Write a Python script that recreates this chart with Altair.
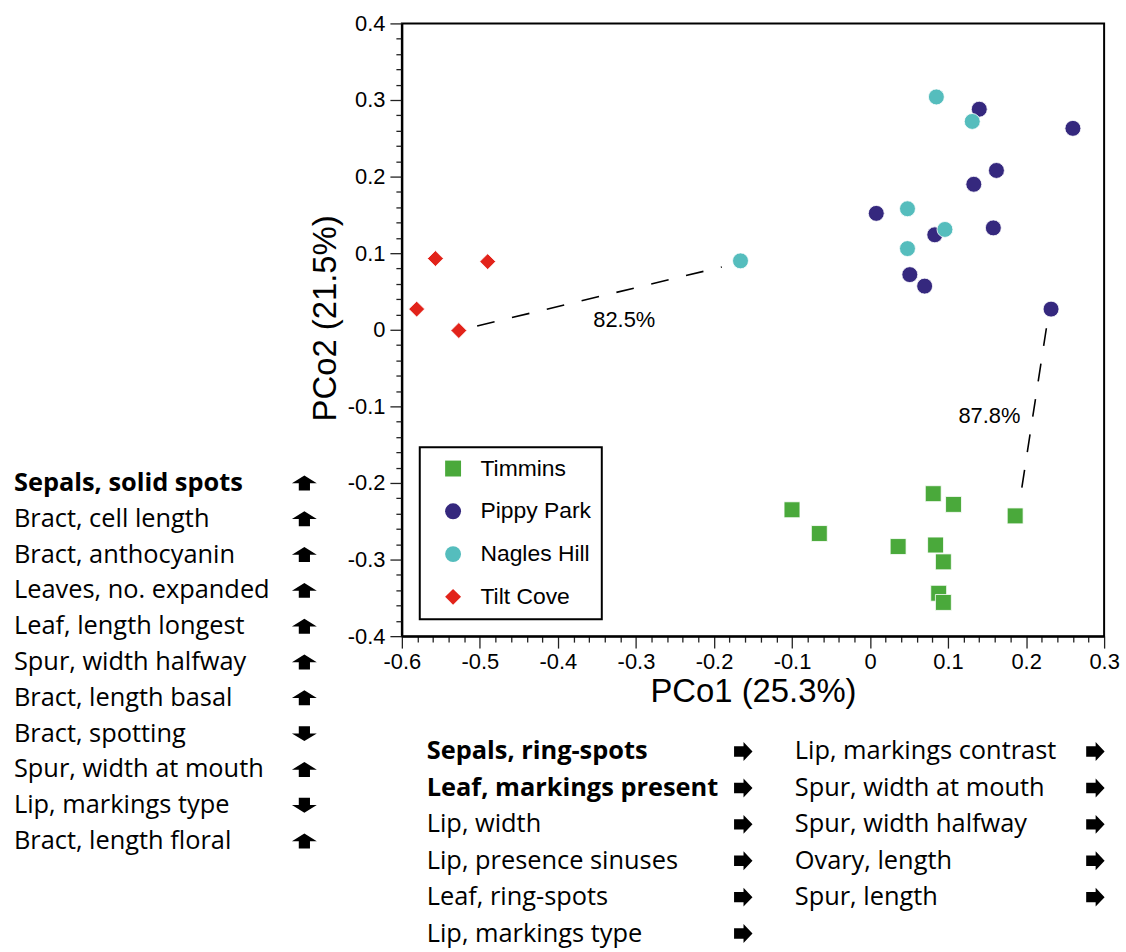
import altair as alt
import pandas as pd

# ---------------- data ----------------
sites = ["Timmins", "Pippy Park", "Nagles Hill", "Tilt Cove"]
site_colors = ["#4aa93b", "#35287e", "#55bdbd", "#e2231a"]
site_shapes = ["square", "circle", "circle", "diamond"]

timmins_x = [-0.100, -0.065, 0.036, 0.081, 0.107, 0.186, 0.084, 0.094, 0.088, 0.094]
timmins_y = [-0.235, -0.266, -0.283, -0.214, -0.228, -0.243, -0.281, -0.303, -0.344, -0.356]
pippy_x = [0.140, 0.260, 0.162, 0.133, 0.008, 0.083, 0.158, 0.051, 0.070, 0.232]
pippy_y = [0.288, 0.263, 0.208, 0.190, 0.152, 0.124, 0.133, 0.072, 0.057, 0.027]
nagles_x = [-0.166, 0.085, 0.131, 0.048, 0.096, 0.048]
nagles_y = [0.090, 0.304, 0.272, 0.158, 0.131, 0.106]
tilt_x = [-0.581, -0.557, -0.490, -0.527]
tilt_y = [0.027, 0.093, 0.089, -0.001]

link_x = [-0.5035, 0.226]
link_y = [0.005, 0.002]
link_x2 = [-0.190, 0.192]
link_y2 = [0.082, -0.223]
link_text = ["82.5%", "87.8%"]
link_text_x = [-0.315, 0.153]
link_text_y = [0.0126, -0.1128]

x_title = "PCo1 (25.3%)"
y_title = "PCo2 (21.5%)"
x_domain = [-0.6, 0.3]
y_domain = [-0.4, 0.4]
x_ticks = [round(-0.6 + 0.02 * i, 2) for i in range(46)]
y_ticks = [round(-0.4 + 0.02 * i, 2) for i in range(41)]

left_labels = ["Sepals, solid spots", "Bract, cell length", "Bract, anthocyanin",
               "Leaves, no. expanded", "Leaf, length longest", "Spur, width halfway",
               "Bract, length basal", "Bract, spotting", "Spur, width at mouth",
               "Lip, markings type", "Bract, length floral"]
left_dirs = ["up", "up", "up", "up", "up", "up", "up", "down", "up", "down", "up"]
left_bold = [True] + [False] * 10

bottomA_labels = ["Sepals, ring-spots", "Leaf, markings present", "Lip, width",
                  "Lip, presence sinuses", "Leaf, ring-spots", "Lip, markings type"]
bottomA_dirs = ["right"] * 6
bottomA_bold = [True, True, False, False, False, False]

bottomB_labels = ["Lip, markings contrast", "Spur, width at mouth", "Spur, width halfway",
                  "Ovary, length", "Spur, length"]
bottomB_dirs = ["right"] * 5
bottomB_bold = [False] * 5

arrow_paths = {
    "up": "M0,-0.6 L1,0.02 L0.45,0.02 L0.45,0.6 L-0.45,0.6 L-0.45,0.02 L-1,0.02 Z",
    "down": "M0,0.6 L1,-0.02 L0.45,-0.02 L0.45,-0.6 L-0.45,-0.6 L-0.45,-0.02 L-1,-0.02 Z",
    "right": "M1,0 L0.05,-1 L0.05,-0.55 L-0.95,-0.55 L-0.95,0.55 L0.05,0.55 L0.05,1 Z",
}

# ---------------- main scatter ----------------
pts = pd.DataFrame({
    "x": timmins_x + pippy_x + nagles_x + tilt_x,
    "y": timmins_y + pippy_y + nagles_y + tilt_y,
    "site": (["Timmins"] * len(timmins_x) + ["Pippy Park"] * len(pippy_x)
             + ["Nagles Hill"] * len(nagles_x) + ["Tilt Cove"] * len(tilt_x)),
})
links = pd.DataFrame({"x": link_x, "y": link_y, "x2": link_x2, "y2": link_y2})
link_labels = pd.DataFrame({"x": link_text_x, "y": link_text_y, "t": link_text})

major_test = "abs(round(datum.value*100)) % 10 == 0"
label_expr = f"({major_test}) ? toString(round(datum.value*10)/10) : ''"
tick_size = {"condition": {"test": major_test, "value": 12}, "value": 6}


def X():
    return alt.X("x:Q", title=x_title,
                 scale=alt.Scale(domain=x_domain, nice=False, zero=False),
                 axis=alt.Axis(values=x_ticks, labelExpr=label_expr, tickSize=tick_size,
                               labelOverlap=False, labelFlush=False, grid=False,
                               labelPadding=4, titlePadding=3))


def Y():
    return alt.Y("y:Q", title=y_title,
                 scale=alt.Scale(domain=y_domain, nice=False, zero=False),
                 axis=alt.Axis(values=y_ticks, labelExpr=label_expr, tickSize=tick_size,
                               labelOverlap=False, labelFlush=False, grid=False,
                               labelPadding=5, titlePadding=5, titleY=296))


legend = alt.Legend(orient="none", legendX=18, legendY=426, title=None,
                    labelFont="Liberation Sans", labelFontSize=23, labelColor="black",
                    symbolSize=256, symbolStrokeWidth=0, symbolOpacity=1,
                    padding=10, rowPadding=19, labelOffset=16, symbolOffset=12,
                    strokeColor="black", fillColor="white")

points = alt.Chart(pts).mark_point(filled=True, opacity=1, size=256,
                                   stroke="white", strokeWidth=0.8).encode(
    x=X(), y=Y(),
    color=alt.Color("site:N", scale=alt.Scale(domain=sites, range=site_colors), legend=legend),
    shape=alt.Shape("site:N", scale=alt.Scale(domain=sites, range=site_shapes), legend=legend),
)

rules = alt.Chart(links).mark_rule(color="black", strokeWidth=1.6, strokeDash=[18, 18]).encode(
    x=X(), y=Y(), x2="x2:Q", y2="y2:Q")

ann = alt.Chart(link_labels).mark_text(font="Liberation Sans", fontSize=22, color="black").encode(
    x=X(), y=Y(), text="t:N")

main = alt.layer(rules, points, ann).properties(
    width=706, height=616,
    view=alt.ViewBackground(stroke="black", strokeWidth=2))


# ---------------- text panels ----------------
def list_panel(labels, dirs, bold, n_rows, x_range, y_range, width, height, arrow_size):
    df = pd.DataFrame({"label": labels, "dir": dirs,
                       "row": list(range(len(labels))), "bold": bold})
    xs = alt.Scale(domain=[0, 1], range=x_range)
    ys = alt.Scale(domain=[0, n_rows - 1], range=y_range)
    y_enc = alt.Y("row:Q", scale=ys, axis=None)
    base = alt.Chart(df)
    layers = [
        base.transform_filter("!datum.bold").mark_text(
            align="left", baseline="middle", font="Open Sans", fontSize=25.5, color="black"
        ).encode(x=alt.XDatum(0, scale=xs, axis=None), y=y_enc, text="label:N"),
        base.transform_filter("datum.bold").mark_text(
            align="left", baseline="middle", font="Open Sans", fontSize=25.5, color="black",
            fontWeight="bold"
        ).encode(x=alt.XDatum(0, scale=xs, axis=None), y=y_enc, text="label:N"),
    ]
    for d in sorted(set(dirs)):
        layers.append(
            base.transform_filter(alt.datum.dir == d).mark_point(
                filled=True, color="black", opacity=1, size=arrow_size, strokeWidth=0,
                shape=arrow_paths[d]
            ).encode(x=alt.XDatum(1, scale=xs, axis=None), y=y_enc)
        )
    return alt.layer(*layers).properties(width=width, height=height)


left = list_panel(left_labels, left_dirs, left_bold, 11, [0, 292], [462, 822], 300, 830, 625)
bottomA = list_panel(bottomA_labels, bottomA_dirs, bottomA_bold, 6, [25, 343], [16, 199],
                     345, 200, 361)
bottomB = list_panel(bottomB_labels, bottomB_dirs, bottomB_bold, 6, [30, 332], [16, 199],
                     340, 200, 361)

bottom = alt.hconcat(bottomA, bottomB, spacing=20, bounds="flush")
right = alt.vconcat(main, bottom, spacing=100, bounds="flush").resolve_scale(
    color="independent", shape="independent").resolve_legend(
    color="independent", shape="independent")
chart = alt.hconcat(left, right, spacing=90, bounds="flush").resolve_scale(
    color="independent", shape="independent").resolve_legend(
    color="independent", shape="independent").properties(
    padding={"left": 13, "top": 9, "right": 5, "bottom": 2}
).configure_view(stroke="transparent").configure_axis(
    labelFont="Liberation Sans", labelFontSize=22, labelColor="black",
    titleFont="Liberation Sans", titleFontSize=33, titleFontWeight="normal", titleColor="black",
    domainColor="black", domainWidth=2, tickColor="#222222", tickWidth=1.3,
).configure_legend(strokeWidth=2)

chart.save("out.html", embed_options={"renderer": "svg", "actions": False})
